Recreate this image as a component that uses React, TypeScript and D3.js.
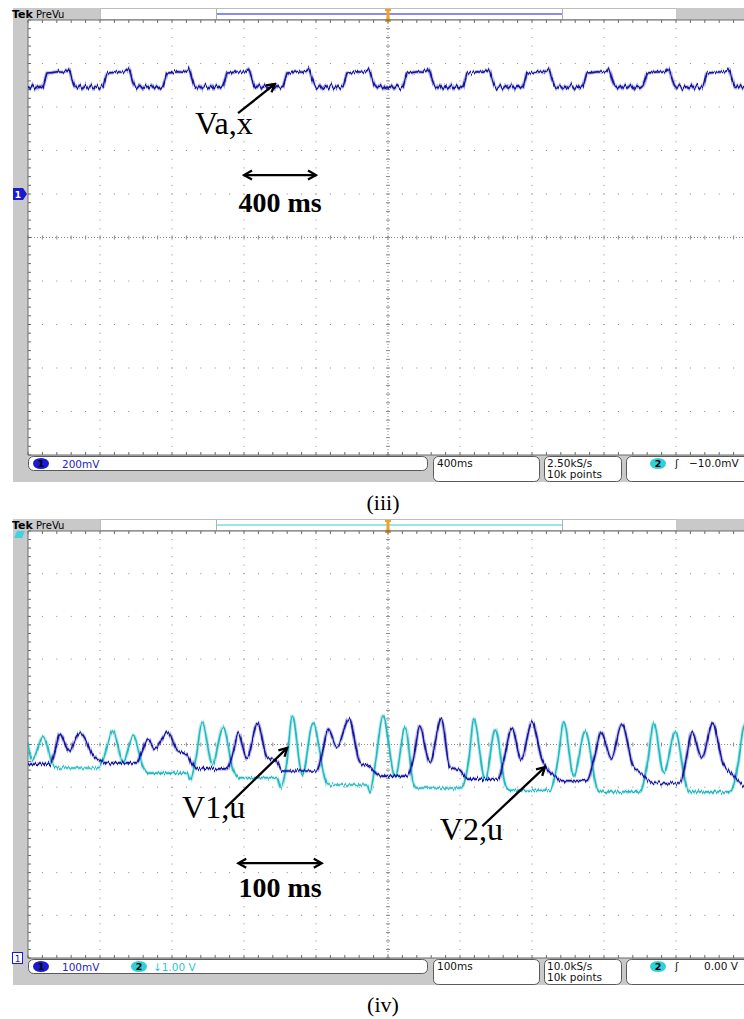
import * as d3 from 'd3';
import { useEffect, useRef } from 'react';

// panel (iii): Va,x on channel 1, 400 ms/div, 200 mV/div
const vaxLeadIn: [number, number][] = [[0, 494], [14, 484], [28, 500], [42, 486], [56, 498], [70, 487]];
const vaxRiseMs = [83, 417, 750, 1083, 1417, 1750, 2083, 2417, 2750, 3083, 3417, 3750];
// one period of the trapezoid, ms after each rising edge -> mV
const vaxPulse: [number, number][] = [
  [0, 494], [22, 556], [50, 558], [80, 562], [110, 560], [130, 566], [142, 574], [150, 562],
  [162, 526], [174, 500], [188, 486], [204, 500], [220, 484], [236, 498], [252, 486],
  [268, 500], [284, 484], [300, 498], [316, 486], [328, 494],
];

// panel (iv): V1,u on channel 1 (100 mV/div), ms -> mV
const v1u: [number, number][] = [
  [0, 454], [31, 454], [37, 482], [44, 525], [57, 485], [72, 527], [81, 506], [90, 475], [100, 464],
  [107, 457], [151, 457], [158, 482], [167, 511], [176, 489], [194, 529], [207, 487], [221, 475],
  [229, 452], [235, 443], [276, 443], [285, 482], [292, 527], [304, 468], [319, 550], [332, 471],
  [344, 464], [354, 438], [401, 438], [408, 475], [417, 536], [429, 494], [446, 560], [461, 459],
  [475, 447], [486, 429], [493, 426], [526, 426], [535, 464], [544, 543], [558, 457], [574, 560],
  [586, 447], [600, 440], [610, 419], [653, 419], [661, 464], [672, 539], [685, 464], [700, 553],
  [714, 464], [722, 440], [735, 422], [739, 415], [776, 415], [786, 464], [796, 529], [810, 468],
  [825, 548], [840, 452], [854, 429], [864, 412], [906, 410], [914, 464], [922, 529], [936, 468],
  [951, 550], [965, 457], [979, 429], [993, 405], [1000, 403],
];

// panel (iv): V2,u on channel 2 (1 V/div), ms -> V
const v2u: [number, number][] = [
  [0, -5.01], [6, -5.36], [21, -4.82], [35, -5.48], [40, -5.55], [96, -5.55], [104, -5.36],
  [118, -4.68], [132, -5.41], [146, -4.8], [160, -5.53], [167, -5.67], [221, -5.67], [225, -5.83],
  [233, -5.36], [242, -4.47], [256, -5.48], [271, -4.59], [285, -5.6], [294, -5.78], [346, -5.78],
  [351, -6.02], [360, -5.36], [367, -4.31], [381, -5.71], [396, -4.5], [413, -5.83], [417, -5.95],
  [471, -5.95], [475, -6.11], [483, -5.36], [493, -4.33], [510, -5.76], [524, -4.59], [535, -5.9],
  [540, -6.02], [600, -6.02], [606, -5.9], [613, -5.25], [619, -4.4], [635, -5.83], [649, -4.64],
  [663, -5.95], [669, -6.07], [725, -6.07], [736, -5.36], [744, -4.47], [758, -5.74], [774, -4.68],
  [790, -6.02], [794, -6.11], [850, -6.11], [861, -5.36], [869, -4.5], [883, -5.67], [899, -4.71],
  [915, -6.0], [919, -6.11], [975, -6.11], [986, -5.48], [994, -4.59], [1000, -4.43],
];

const statusIII = ['200mV', '400ms', '2.50kS/s', '10k points', '\u221210.0mV'];
const statusIV = ['100mV', '100ms', '10.0kS/s', '10k points', '0.00 V'];

const BLUE = '#14149e';
const CYAN = '#22b8c0';
const PANEL = '#c9c9c9';
const UI = 'DejaVu Sans, sans-serif';
const SERIF = 'Liberation Serif, Times New Roman, serif';

type Sel = d3.Selection<SVGGElement, unknown, null, undefined>;

function drawFrame(g: Sel, headerTop: number, gridTop: number, gridBottom: number, statusBottom: number, recColor: string) {
  // left strip, header pieces, status strip
  g.append('rect').attr('x', 13).attr('y', headerTop).attr('width', 15).attr('height', statusBottom - headerTop).attr('fill', PANEL);
  g.append('rect').attr('x', 13).attr('y', headerTop).attr('width', 87).attr('height', gridTop - headerTop).attr('fill', PANEL);
  g.append('rect').attr('x', 100.5).attr('y', headerTop + 0.5).attr('width', 576).attr('height', gridTop - headerTop - 1)
    .attr('fill', '#fff').attr('stroke', '#bdbdbd');
  g.append('rect').attr('x', 676).attr('y', headerTop).attr('width', 68).attr('height', gridTop - headerTop).attr('fill', PANEL);
  g.append('line').attr('x1', 216.5).attr('x2', 216.5).attr('y1', headerTop + 1).attr('y2', gridTop).attr('stroke', '#b0b0b0');
  g.append('line').attr('x1', 562.5).attr('x2', 562.5).attr('y1', headerTop + 1).attr('y2', gridTop).attr('stroke', '#b0b0b0');
  g.append('line').attr('x1', 217).attr('x2', 562).attr('y1', headerTop + 6).attr('y2', headerTop + 6)
    .attr('stroke', recColor).attr('stroke-width', 2);
  g.append('text').attr('x', 12).attr('y', headerTop + 10).attr('font-family', UI).attr('font-weight', 'bold')
    .attr('font-size', 11).text('Tek');
  g.append('text').attr('x', 36).attr('y', headerTop + 10).attr('font-family', UI).attr('font-size', 10).text('PreVu');
  g.append('rect').attr('x', 13).attr('y', gridBottom).attr('width', 731).attr('height', statusBottom - gridBottom).attr('fill', PANEL);
  // trigger position marker
  g.append('path')
    .attr('d', `M385,${headerTop + 1}h6v2h-1.5v7l1.5,2v2h-6v-2l1.5,-2v-7h-1.5z`)
    .attr('fill', '#f2a21e');
  g.append('path').attr('d', `M385.5,${gridTop}h5l-2.5,3z`).attr('fill', '#f2a21e');
}

function drawGrid(g: Sel, x: d3.ScaleLinear<number, number>, y: d3.ScaleLinear<number, number>, xMaj: number, yMaj: number) {
  const [x0, x1] = x.range();
  const [yb, yt] = y.range();
  const [dx0, dx1] = x.domain();
  const [dy0, dy1] = y.domain();
  const xMinor = d3.range(dx0, dx1 + 1e-9, xMaj / 5).map(x);
  const yMinor = d3.range(dy0, dy1 + 1e-9, yMaj / 5).map(y);
  const xMajor = d3.range(dx0 + xMaj, dx1 - 1e-9, xMaj).map(x);
  const yMajor = d3.range(dy0 + yMaj, dy1 - 1e-9, yMaj).map(y);
  const xc = (x0 + x1) / 2;
  const yc = (yb + yt) / 2;
  const dots = g.append('g').attr('fill', '#8a8a8a');
  xMajor.filter(v => Math.abs(v - xc) > 1).forEach(px => {
    yMinor.forEach(py => dots.append('rect').attr('x', px - 0.5).attr('y', py - 0.5).attr('width', 1).attr('height', 1));
  });
  yMajor.filter(v => Math.abs(v - yc) > 1).forEach(py => {
    xMinor.forEach(px => dots.append('rect').attr('x', px - 0.5).attr('y', py - 0.5).attr('width', 1).attr('height', 1));
  });
  // centre cross lines with ticks
  const c = g.append('g').attr('stroke', '#8a8a8a').attr('stroke-width', 1);
  c.append('line').attr('x1', x0).attr('x2', x1).attr('y1', yc).attr('y2', yc).attr('stroke-dasharray', '1 2');
  c.append('line').attr('x1', xc).attr('x2', xc).attr('y1', yt).attr('y2', yb).attr('stroke-dasharray', '1 2');
  xMinor.forEach(px => c.append('line').attr('x1', px).attr('x2', px).attr('y1', yc - 2).attr('y2', yc + 2));
  yMinor.forEach(py => c.append('line').attr('x1', xc - 2).attr('x2', xc + 2).attr('y1', py).attr('y2', py));
  // border and edge ticks
  const b = g.append('g').attr('stroke', '#6a6a6a').attr('stroke-width', 1);
  b.append('line').attr('x1', x0).attr('x2', 744).attr('y1', yt).attr('y2', yt);
  b.append('line').attr('x1', x0).attr('x2', 744).attr('y1', yb).attr('y2', yb);
  b.append('line').attr('x1', x0).attr('x2', x0).attr('y1', yt).attr('y2', yb);
  xMinor.forEach(px => {
    b.append('line').attr('x1', px).attr('x2', px).attr('y1', yt).attr('y2', yt + 3);
    b.append('line').attr('x1', px).attr('x2', px).attr('y1', yb).attr('y2', yb - 3);
  });
  yMinor.forEach(py => b.append('line').attr('x1', x0).attr('x2', x0 + 3).attr('y1', py).attr('y2', py));
}

function drawTrace(g: Sel, data: [number, number][], x: d3.ScaleLinear<number, number>, y: d3.ScaleLinear<number, number>,
  color: string, curve: d3.CurveFactory, clipId: string) {
  const line = d3.line<[number, number]>().x(d => x(d[0])).y(d => y(d[1])).curve(curve);
  const t = g.append('g').attr('clip-path', `url(#${clipId})`);
  t.append('path').attr('d', line(data)).attr('fill', 'none').attr('stroke', color).attr('stroke-opacity', 0.3)
    .attr('stroke-width', 3.6).attr('filter', 'url(#jitter)');
  t.append('path').attr('d', line(data)).attr('fill', 'none').attr('stroke', color)
    .attr('stroke-width', 1.6).attr('stroke-linejoin', 'round').attr('filter', 'url(#jitter)');
}

function drawStatus(g: Sel, top: number, texts: string[], ch2Text: string | null) {
  const box = (x: number, w: number, h: number) =>
    g.append('rect').attr('x', x + 0.5).attr('y', top + 1.5).attr('width', w).attr('height', h).attr('rx', 5)
      .attr('fill', '#fff').attr('stroke', '#5a5a5a');
  box(28, 399, 14);
  box(433, 106, 25);
  box(544, 77, 25);
  box(626, 130, 25);
  const badge = (cx: number, fill: string, label: string) => {
    g.append('ellipse').attr('cx', cx).attr('cy', top + 8.5).attr('rx', 8).attr('ry', 5.5).attr('fill', fill);
    g.append('text').attr('x', cx).attr('y', top + 12).attr('text-anchor', 'middle').attr('font-family', UI)
      .attr('font-weight', 'bold').attr('font-size', 9.5).text(label);
  };
  const txt = (x: number, y: number, s: string, fill = '#111') =>
    g.append('text').attr('x', x).attr('y', y).attr('font-family', UI).attr('font-size', 10.5).attr('fill', fill).text(s);
  badge(41, '#1a1ad0', '1');
  txt(62, top + 12.5, texts[0], '#2424c8');
  if (ch2Text) {
    badge(139, '#2fd0d8', '2');
    txt(153, top + 12.5, ch2Text, '#2fc4cc');
  }
  txt(437, top + 12, texts[1]);
  txt(547, top + 12, texts[2]);
  txt(547, top + 23, texts[3]);
  badge(658, '#2fd0d8', '2');
  txt(675, top + 12, '\u0283');
  txt(texts[4].startsWith('0') ? 704 : 689, top + 12, texts[4]);
}

function arrow(g: Sel, a: [number, number], b: [number, number], both = false) {
  const l = g.append('line').attr('x1', a[0]).attr('y1', a[1]).attr('x2', b[0]).attr('y2', b[1])
    .attr('stroke', '#000').attr('stroke-width', 2.3).attr('marker-end', 'url(#head)');
  if (both) l.attr('marker-start', 'url(#head)');
}

export default function App() {
  const ref = useRef<SVGSVGElement>(null);

  useEffect(() => {
    document.body.style.margin = '0';
    const svg = d3.select(ref.current);
    svg.selectAll('*').remove();
    const defs = svg.append('defs');

    // vertical-only jitter, gives the traces their scope noise
    const f = defs.append('filter').attr('id', 'jitter').attr('x', '-2%').attr('y', '-30%')
      .attr('width', '104%').attr('height', '160%').attr('color-interpolation-filters', 'sRGB');
    f.append('feTurbulence').attr('type', 'fractalNoise').attr('baseFrequency', '0.7 0.04')
      .attr('numOctaves', 2).attr('seed', 4).attr('result', 'n');
    f.append('feColorMatrix').attr('in', 'n').attr('type', 'matrix')
      .attr('values', '1 0 0 0 0  0 0 0 0 0.5  0 0 0 0 0  0 0 0 0 1').attr('result', 'm');
    f.append('feDisplacementMap').attr('in', 'SourceGraphic').attr('in2', 'm').attr('scale', 6)
      .attr('xChannelSelector', 'G').attr('yChannelSelector', 'R');

    defs.append('marker').attr('id', 'head').attr('viewBox', '0 0 12 12').attr('refX', 10).attr('refY', 6)
      .attr('markerWidth', 12).attr('markerHeight', 12).attr('markerUnits', 'userSpaceOnUse')
      .attr('orient', 'auto-start-reverse')
      .append('path').attr('d', 'M2,1.5 L10,6 L2,10.5').attr('fill', 'none').attr('stroke', '#000').attr('stroke-width', 2.3);

    defs.append('clipPath').attr('id', 'clip3').append('rect').attr('x', 28).attr('y', 20).attr('width', 720).attr('height', 435);
    defs.append('clipPath').attr('id', 'clip4').append('rect').attr('x', 28).attr('y', 531).attr('width', 720).attr('height', 427);

    // ---------- panel (iii) ----------
    const g3 = svg.append('g') as unknown as Sel;
    drawFrame(g3, 8, 20, 455, 482, '#8a8af2');
    const x3 = d3.scaleLinear().domain([0, 4000]).range([28, 748]);
    const y3 = d3.scaleLinear().domain([-1200, 800]).range([455, 20]);
    drawGrid(g3, x3, y3, 400, 200);
    const vax: [number, number][] = [
      ...vaxLeadIn,
      ...vaxRiseMs.flatMap(t0 => vaxPulse.map(([dt, v]) => [t0 + dt, v] as [number, number])),
    ];
    drawTrace(g3, vax, x3, y3, BLUE, d3.curveLinear, 'clip3');
    // channel 1 ground marker
    const gy3 = y3(0);
    g3.append('path').attr('d', `M13,${gy3 - 6}h10l4,6l-4,6h-10z`).attr('fill', '#1a1ad0');
    g3.append('text').attr('x', 18).attr('y', gy3 + 3.5).attr('text-anchor', 'middle').attr('font-family', UI)
      .attr('font-size', 9).attr('font-weight', 'bold').attr('fill', '#fff').text('1');
    drawStatus(g3, 455, statusIII, null);

    arrow(g3, [x3(1167), y3(372)], [x3(1372), y3(506)]);
    g3.append('text').attr('x', x3(928)).attr('y', y3(276)).attr('font-family', SERIF).attr('font-size', 32).text('Va,x');
    arrow(g3, [x3(1200), y3(87)], [x3(1600), y3(87)], true);
    g3.append('text').attr('x', x3(1400)).attr('y', y3(-83)).attr('text-anchor', 'middle').attr('font-family', SERIF)
      .attr('font-weight', 'bold').attr('font-size', 28).text('400 ms');
    g3.append('text').attr('x', 383).attr('y', 510).attr('text-anchor', 'middle').attr('font-family', SERIF)
      .attr('font-size', 22).text('(iii)');

    // ---------- panel (iv) ----------
    const g4 = svg.append('g') as unknown as Sel;
    drawFrame(g4, 519, 531, 958, 985, '#9ae6ee');
    const x4 = d3.scaleLinear().domain([0, 1000]).range([28, 748]);
    const y4a = d3.scaleLinear().domain([0, 1000]).range([958, 531]);
    const y4b = d3.scaleLinear().domain([-10, 0]).range([958, 531]);
    drawGrid(g4, x4, y4a, 100, 100);
    drawTrace(g4, v2u, x4, y4b, CYAN, d3.curveMonotoneX, 'clip4');
    drawTrace(g4, v1u, x4, y4a, BLUE, d3.curveMonotoneX, 'clip4');
    // channel markers
    g4.append('path').attr('d', 'M14,538l3,-7h8l-3,7z').attr('fill', '#3fd4dc');
    g4.append('rect').attr('x', 12.5).attr('y', 952.5).attr('width', 10).attr('height', 11).attr('fill', '#fff')
      .attr('stroke', '#1a1ad0');
    g4.append('text').attr('x', 17.5).attr('y', 961.5).attr('text-anchor', 'middle').attr('font-family', UI)
      .attr('font-size', 9).attr('fill', '#1a1ad0').text('1');
    drawStatus(g4, 958, statusIV, '\u21931.00 V');

    arrow(g4, [x4(274), y4a(351)], [x4(360), y4a(492)]);
    g4.append('text').attr('x', x4(214)).attr('y', y4a(328)).attr('font-family', SERIF).attr('font-size', 32).text('V1,u');
    arrow(g4, [x4(631), y4a(309)], [x4(718), y4a(447)]);
    g4.append('text').attr('x', x4(572)).attr('y', y4a(276)).attr('font-family', SERIF).attr('font-size', 32).text('V2,u');
    arrow(g4, [x4(292), y4a(222)], [x4(408), y4a(222)], true);
    g4.append('text').attr('x', x4(350)).attr('y', y4a(143)).attr('text-anchor', 'middle').attr('font-family', SERIF)
      .attr('font-weight', 'bold').attr('font-size', 28).text('100 ms');
    g4.append('text').attr('x', 383).attr('y', 1012).attr('text-anchor', 'middle').attr('font-family', SERIF)
      .attr('font-size', 22).text('(iv)');
  }, []);

  return <svg ref={ref} width={744} height={1019} style={{ display: 'block', background: '#fff' }} />;
}
